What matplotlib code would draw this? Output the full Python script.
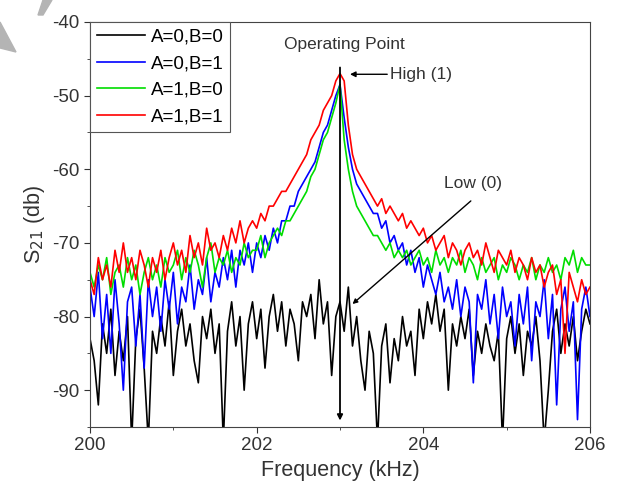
import numpy as np
import matplotlib.pyplot as plt
from matplotlib.patches import Polygon

plt.rcParams['font.family'] = ['Liberation Sans', 'DejaVu Sans']
plt.rcParams['axes.unicode_minus'] = False

# frequency grid (kHz), 0.05 kHz step
freq = np.round(np.arange(200.0, 206.0001, 0.05), 2)

# S21 (dB), one value per grid point
s21_a0b0 = [
    -83, -86, -92, -81, -85, -79, -88, -82, -86, -80,
    -97, -83, -79, -87, -97, -82, -85, -80, -84, -78,
    -88, -82, -79, -84, -81, -86, -89, -80, -83, -79,
    -85, -81, -97, -82, -78, -84, -80, -90, -81, -78,
    -83, -79, -87, -80, -77, -82, -78, -84, -79, -81,
    -86, -78, -80, -77, -83, -75, -81, -78, -88, -80,
    -78, -82, -76, -84, -80, -86, -90, -82, -85, -97,
    -84, -81, -89, -83, -86, -80, -84, -82, -88, -79,
    -83, -78, -81, -77, -82, -79, -90, -81, -84, -80,
    -83, -79, -88, -82, -85, -81, -84, -86, -82, -97,
    -83, -80, -85, -81, -88, -82, -84, -80, -86, -97,
    -90, -82, -79, -85, -81, -84, -80, -86, -82, -79,
    -81]
s21_a0b1 = [
    -76, -80, -74, -83, -77, -85, -75, -81, -90, -78,
    -76, -84, -77, -87, -75, -80, -76, -82, -75, -79,
    -74, -81, -76, -78, -73, -79, -75, -77, -72, -78,
    -74, -76, -72, -75, -71, -76, -71, -73, -70, -74,
    -70, -72, -69, -71, -68, -70, -67, -67, -65, -65,
    -63, -62, -61, -60, -59, -57, -55, -54, -52, -50,
    -48.5, -53, -57, -60, -62, -63, -64, -65, -66, -66,
    -68, -67, -70, -69, -71, -70, -73, -71, -74, -72,
    -76, -73, -75, -77, -74, -78, -76, -79, -75, -80,
    -76, -78, -89, -77, -79, -75, -81, -77, -83, -76,
    -80, -78, -84, -77, -81, -76, -86, -78, -80, -75,
    -83, -77, -92, -79, -76, -82, -78, -94, -79, -76,
    -80]
s21_a1b0 = [
    -74, -76, -73, -75, -72, -77, -74, -73, -76, -72,
    -75, -73, -77, -74, -72, -75, -73, -76, -72, -74,
    -73, -71, -75, -72, -74, -71, -73, -76, -72, -70,
    -74, -72, -73, -71, -74, -72, -73, -70, -72, -71,
    -71, -69, -72, -70, -69, -68, -69, -67, -67, -66,
    -65, -64, -63, -61, -60, -58, -56, -55, -53, -51,
    -48.5, -56, -60, -63, -65, -66, -67, -68, -69, -69,
    -70, -71, -70, -72, -71, -72, -71, -73, -72, -71,
    -73, -72, -74, -71, -73, -72, -74, -72, -73, -71,
    -74, -72, -73, -75, -72, -74, -73, -72, -75, -73,
    -74, -72, -73, -75, -73, -74, -72, -75, -73, -74,
    -72, -74, -73, -75, -72, -73, -71, -74, -72, -73,
    -73]
s21_a1b1 = [
    -75, -77, -72, -75, -73, -76, -71, -74, -70, -74,
    -72, -75, -71, -73, -76, -72, -74, -71, -75, -72,
    -70, -73, -71, -74, -69, -72, -70, -73, -68, -71,
    -70, -72, -69, -71, -68, -70, -67, -70, -68, -67,
    -68, -66, -67, -65, -65, -64, -63, -63, -62, -61,
    -60, -59, -58, -56, -55, -54, -52, -51, -50, -48,
    -47, -48, -54, -58, -60, -61, -62, -63, -64, -65,
    -64, -66, -65, -66, -67, -66, -68, -67, -68, -69,
    -68, -70, -69, -71, -70, -69, -72, -70, -71, -73,
    -71, -70, -72, -71, -73, -70, -72, -74, -71, -72,
    -73, -71, -74, -72, -73, -75, -72, -74, -73, -76,
    -74, -73, -77, -75, -85, -74, -76, -78, -75, -77,
    -76]

labels = ['A=0,B=0', 'A=0,B=1', 'A=1,B=0', 'A=1,B=1']
colors = ['black', '#0000ff', '#00dd00', '#ff0000']

fig = plt.figure(figsize=(6.22, 5.0), dpi=100)
ax = fig.add_axes([90 / 622, 73 / 500, 500 / 622, 405 / 500])

for ys, lab, c in zip([s21_a0b0, s21_a0b1, s21_a1b0, s21_a1b1], labels, colors):
    ax.plot(freq, ys, color=c, lw=1.2, label=lab)

ax.set_xlim(200, 206)
ax.set_ylim(-95, -40)
ax.set_xticks([200, 202, 204, 206])
ax.set_xticks([201, 203, 205], minor=True)
ax.set_yticks([-90, -80, -70, -60, -50, -40])
ax.set_yticks(np.arange(-95, -40, 5), minor=True)
ax.tick_params(which='both', direction='out', top=False, right=False,
               labelsize=13.5, colors='#333333')
ax.tick_params(which='major', length=4)
ax.tick_params(which='minor', length=2.5)
for sp in ax.spines.values():
    sp.set_color('#444444')

ax.set_xlabel('Frequency (kHz)', fontsize=15.5, color='#333333')
ax.set_ylabel('S$_{21}$ (db)', fontsize=15.5, color='#333333')

leg = ax.legend(loc='upper left', bbox_to_anchor=(0, 1), borderaxespad=0,
                fontsize=13.5, handlelength=2.6, handletextpad=0.3,
                labelspacing=0.5, borderpad=0.35, fancybox=False,
                edgecolor='#555555', framealpha=1)
leg.get_frame().set_linewidth(0.8)

# operating point marker
ax.annotate('', xy=(203.0, -94.5), xytext=(203.0, -45.8),
            arrowprops=dict(arrowstyle='-|>', color='black', lw=1.3,
                            mutation_scale=8))
ax.text(203.05, -43.0, 'Operating Point', ha='center', va='center',
        fontsize=12.5, color='#333333')
ax.annotate('High (1)', xy=(203.12, -47.1), xytext=(203.6, -47.1),
            va='center', fontsize=12.5, color='#333333',
            arrowprops=dict(arrowstyle='-|>', color='black', lw=1.0,
                            mutation_scale=8, shrinkA=0, shrinkB=0))
ax.text(204.6, -62.0, 'Low (0)', ha='center', va='center',
        fontsize=12.5, color='#333333')
ax.annotate('', xy=(203.15, -78.3), xytext=(204.57, -64.3),
            arrowprops=dict(arrowstyle='-|>', color='black', lw=1.0,
                            mutation_scale=7, shrinkA=0, shrinkB=0))

# grey artefact in the top-left corner of the source image
fig.patches.append(Polygon([(0, 1 - 22 / 500), (16 / 622, 1 - 52 / 500),
                            (0, 1 - 48 / 500)], closed=True,
                           transform=fig.transFigure, color='#b4b4b4'))
fig.patches.append(Polygon([(38 / 622, 1 - 15 / 500), (43 / 622, 1),
                            (52 / 622, 1), (43 / 622, 1 - 15 / 500)],
                           closed=True, transform=fig.transFigure,
                           color='#b4b4b4'))

fig.savefig('out.png', dpi=100)
